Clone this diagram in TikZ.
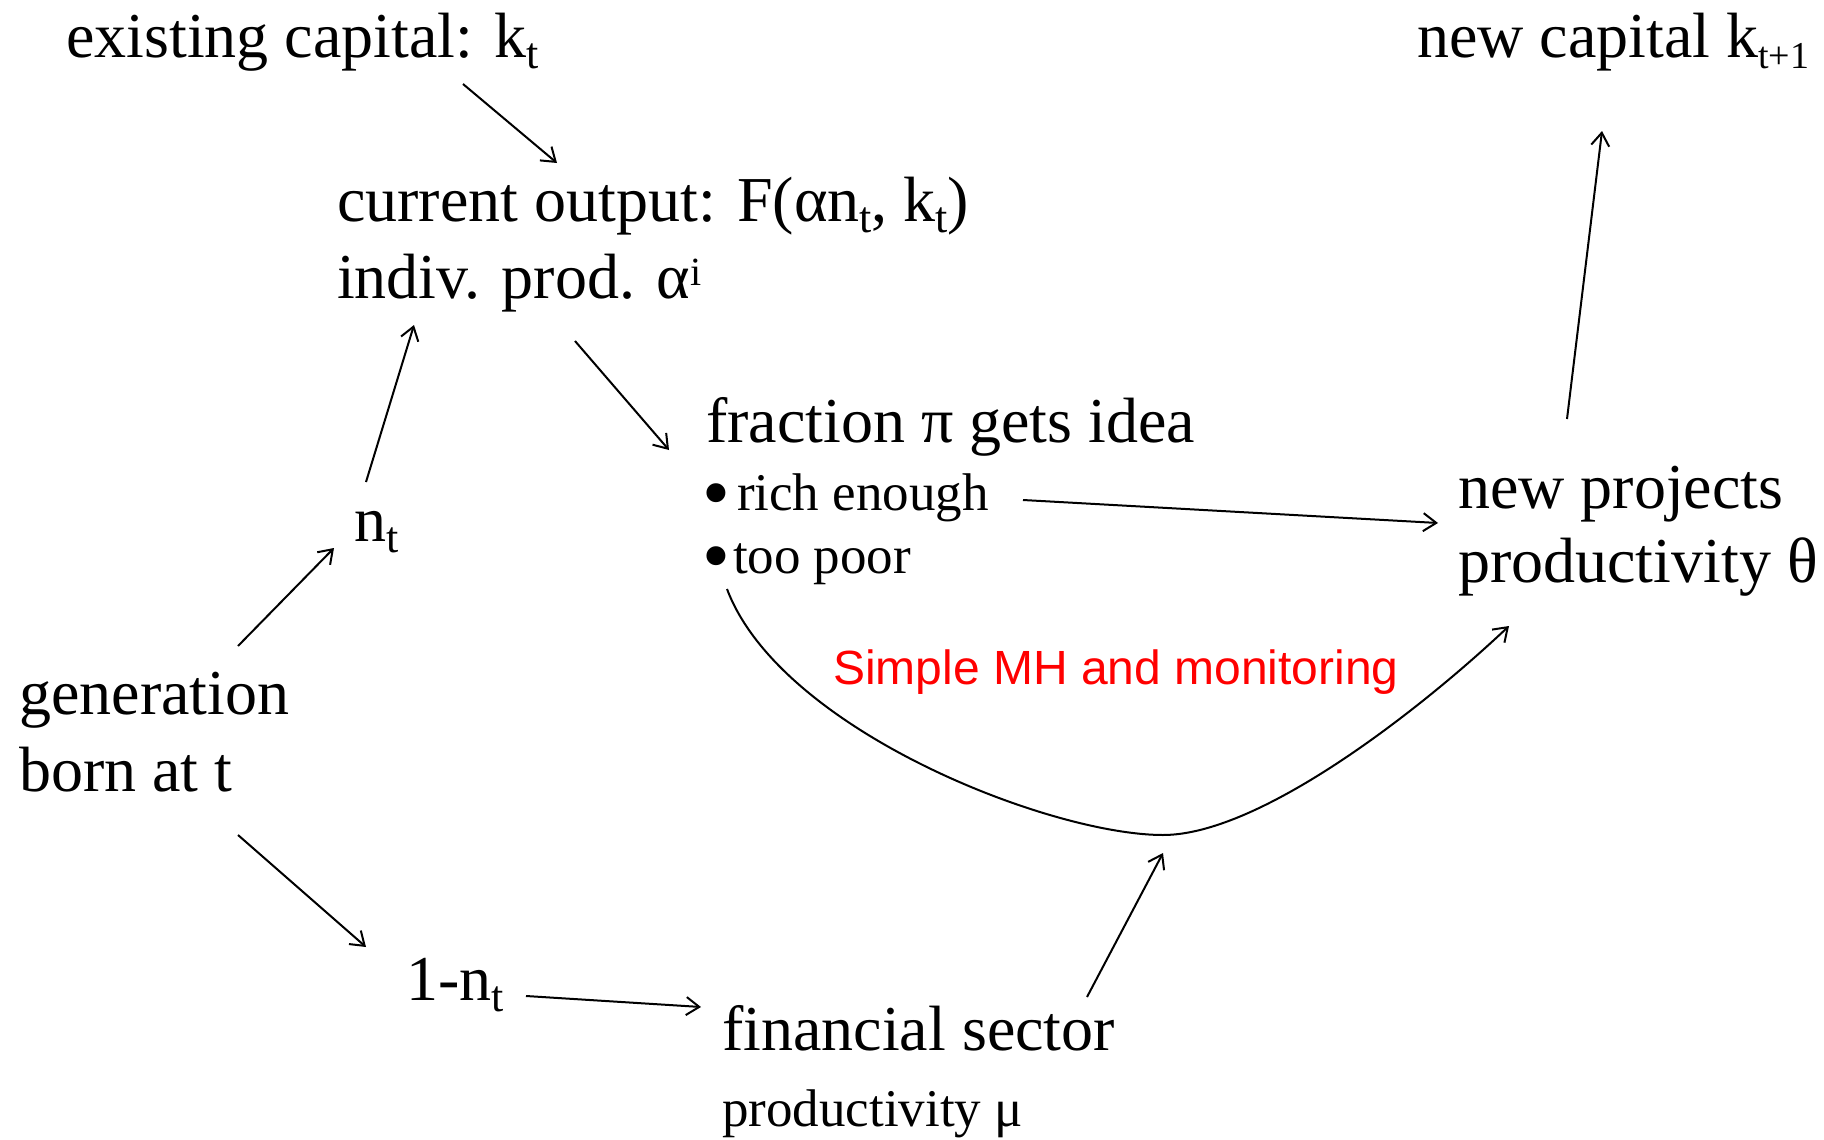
\documentclass[tikz,border=0pt]{standalone}
\usepackage{fontspec}
\setmainfont{Liberation Serif}
\newfontfamily\mhfont{Liberation Sans}
\usetikzlibrary{arrows.meta}

% pallino grande per gli elenchi
\newcommand{\bigdot}{\raisebox{-9pt}[0pt][0pt]{\scalebox{1.5}{•}}}
% pedici e apici
\newcommand{\lowtxt}[2][44]{\raisebox{-11pt}{\fontsize{#1}{#1}\selectfont #2}}
\newcommand{\uptxt}[1]{\raisebox{13pt}{\fontsize{40}{40}\selectfont #1}}

\begin{document}
\begin{tikzpicture}[x=1pt, y=-1pt,
    big/.style={anchor=base west, inner sep=0pt, font=\fontsize{64}{77}\selectfont},
    small/.style={big, font=\fontsize{53}{64}\selectfont},
    arr/.style={-{Straight Barb[length=13pt,width=18pt]}, line width=2pt}]

    \useasboundingbox (0,0) rectangle (1824,1140);

    % ==========================================
    % CAPITAL AND OUTPUT
    % ==========================================

    \node[big] (exist) at (66,58) {existing capital: k\lowtxt{t}};
    \node[big] (output) at (337,221) {current output: F(αn\lowtxt{t}, k\lowtxt{t})};
    \node[big] (indiv) at (337,298) {indiv. prod. α\uptxt{i}};
    \node[big] (newcap) at (1417,58) {new capital k\lowtxt[38]{t+1}};

    % ==========================================
    % GENERATION AND ITS SPLIT
    % ==========================================

    \node[big] (gen) at (19,714) {generation};
    \node[big] (born) at (19,791) {born at t};
    \node[big] (nt) at (354,541) {n\lowtxt{t}};
    \node[big] (onent) at (406,1000) {1-n\lowtxt{t}};

    % ==========================================
    % IDEAS, PROJECTS, FINANCE
    % ==========================================

    \node[big] (frac) at (706,442) {fraction π gets idea};
    \node[small] (rich) at (702,510) {\bigdot\hspace{7pt}rich enough};
    \node[small] (poor) at (702,573) {\bigdot\hspace{3pt}too poor};
    \node[big] (proj) at (1458,508) {new projects};
    \node[big] (theta) at (1458,582) {productivity θ};
    \node[big] (fin) at (722,1050) {financial sector};
    \node[small] (mu) at (722,1126) {productivity μ};

    % etichetta rossa sulla curva
    \node[anchor=base west, inner sep=0pt, text=red, font=\mhfont\fontsize{48}{58}\selectfont] (mh) at (833,684) {Simple MH and monitoring};

    % ==========================================
    % FRECCE
    % ==========================================

    \draw[arr] ([shift={(397,26)}]exist.base west) -- ([shift={(220,-58)}]output.base west);
    \draw[arr] ([shift={(12,-59)}]nt.base west) -- ([shift={(77,27)}]indiv.base west);
    \draw[arr] ([shift={(219,-68)}]gen.base west) -- ([shift={(-20,7)}]nt.base west);
    \draw[arr] ([shift={(219,44)}]born.base west) -- ([shift={(-40,-53)}]onent.base west);
    \draw[arr] ([shift={(238,43)}]indiv.base west) -- ([shift={(-37,8)}]frac.base west);
    \draw[arr] ([shift={(321,-10)}]rich.base west) -- ([shift={(-20,15)}]proj.base west);
    \draw[arr] ([shift={(109,-89)}]proj.base west) -- ([shift={(185,73)}]newcap.base west);
    \draw[arr] ([shift={(120,-4)}]onent.base west) -- ([shift={(-21,-43)}]fin.base west);

    % curva dei poveri verso i progetti, passando per il fondo
    \coordinate (dip) at (1163,835);
    \draw[arr] ([shift={(25,16)}]poor.base west)
        .. controls (780,730) and (1050,835) .. (dip)
        .. controls (1260,835) and (1420,710) .. ([shift={(51,44)}]theta.base west);

    % settore finanziario verso il fondo della curva
    \draw[arr] ([shift={(365,-53)}]fin.base west) -- ([shift={(0,18)}]dip);

\end{tikzpicture}
\end{document}
